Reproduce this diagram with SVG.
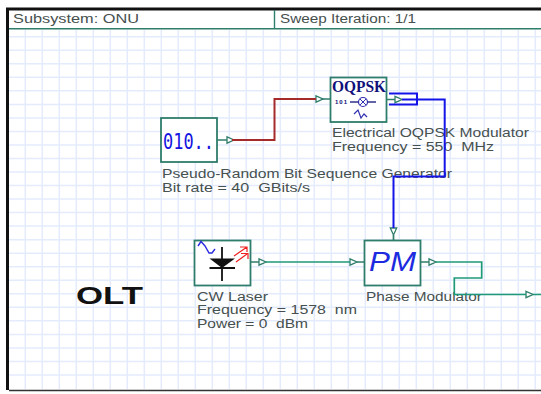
<svg xmlns="http://www.w3.org/2000/svg" width="541" height="394" viewBox="0 0 541 394">
<style>
text{white-space:pre}
.t{font-family:"Liberation Sans",Arial,sans-serif;font-size:12.5px;fill:#46504f}
.b{fill:#fff;stroke:#2f7d6b;stroke-width:1.8}
.w{fill:none;stroke-width:1.7}
.g{stroke:#1f9a78}.s{stroke:#2f7d6b}.u{stroke:#1414e8;stroke-width:2}.r{stroke:#a52a2a;stroke-width:2}
.p{fill:#fff;stroke:#2f7d6b;stroke-width:1.3}
.grid{stroke:#e4ebfd;stroke-width:1.5}
</style>
<defs>
<g id="port"><path class="p" d="M0-3.2 L7 0 L0 3.2Z"/></g>
<g id="portd"><path class="p" d="M-3.2 0 L3.2 0 L0 7Z"/></g>
</defs>
<rect width="541" height="394" fill="#fff"/>
<g id="grid" class="grid">
<path d="M25.3 30V389M42.3 30V389M59.3 30V389M76.3 30V389M93.3 30V389M110.3 30V389M127.3 30V389M144.3 30V389M161.3 30V389M178.3 30V389M195.3 30V389M212.3 30V389M229.3 30V389M246.3 30V389M263.3 30V389M280.3 30V389M297.3 30V389M314.3 30V389M331.3 30V389M348.3 30V389M365.3 30V389M382.3 30V389M399.3 30V389M416.3 30V389M433.3 30V389M450.3 30V389M467.3 30V389M484.3 30V389M501.3 30V389M518.3 30V389M535.3 30V389"/>
<path d="M9 36.7H541M9 50.2H541M9 63.8H541M9 77.3H541M9 90.8H541M9 104.4H541M9 117.9H541M9 131.4H541M9 144.9H541M9 158.5H541M9 172H541M9 185.5H541M9 199.1H541M9 212.6H541M9 226.1H541M9 239.7H541M9 253.2H541M9 266.7H541M9 280.2H541M9 293.8H541M9 307.3H541M9 320.8H541M9 334.4H541M9 347.9H541M9 361.4H541M9 375H541"/>
</g>
<g id="frame">
<path d="M7.500 390V9H541" fill="none" stroke="#111" stroke-width="3"/>
<path d="M9 390.500H541" stroke="#333" stroke-width="1.4"/>
<path d="M9 28.700H541M274.500 10V28.700" fill="none" stroke="#2f7d6b" stroke-width="1.4"/>
<text class="t" x="13" y="23" textLength="126" lengthAdjust="spacingAndGlyphs">Subsystem: ONU</text>
<text class="t" x="280" y="23" textLength="136" lengthAdjust="spacingAndGlyphs">Sweep Iteration: 1/1</text>
</g>
<g id="prbs">
<rect class="b" x="161" y="118" width="56" height="44"/>
<text x="163" y="149" font-family="'DejaVu Sans Mono',monospace" font-size="22" fill="#1414e0" textLength="51" lengthAdjust="spacingAndGlyphs">010..</text>
<use href="#port" x="227" y="140"/>
<text class="t" x="162" y="178" textLength="290" lengthAdjust="spacingAndGlyphs">Pseudo-Random Bit Sequence Generator</text>
<text class="t" x="162" y="192" textLength="148" lengthAdjust="spacingAndGlyphs">Bit rate = 40  GBits/s</text>
</g>
<g id="oqpsk">
<rect class="b" x="330.500" y="77.500" width="56" height="44.500"/>
<text x="332" y="92" font-family="'Liberation Serif',serif" font-weight="bold" font-size="17" fill="#10107a" textLength="54" lengthAdjust="spacingAndGlyphs">OQPSK</text>
<text x="335" y="104" font-family="'Liberation Sans',sans-serif" font-weight="bold" font-size="6" fill="#10107a" textLength="12">101</text>
<path d="M350 102H376" stroke="#10107a" stroke-width="1.3" fill="none"/>
<circle cx="363" cy="102" r="4.500" fill="#fff" stroke="#3030b0" stroke-width="1.2"/>
<path d="M360 99L366 105M366 99L360 105" stroke="#3030b0"/>
<path d="M354 114L358 110L361 118L364 114L367 117" fill="none" stroke="#3030b0" stroke-width="1.2"/>
<use href="#port" x="316" y="99"/>
<use href="#port" x="395" y="99.500"/>
<text class="t" x="332" y="137" textLength="197" lengthAdjust="spacingAndGlyphs">Electrical OQPSK Modulator</text>
<text class="t" x="332" y="151" textLength="162" lengthAdjust="spacingAndGlyphs">Frequency = 550  MHz</text>
</g>
<g id="laser">
<rect class="b" x="194.500" y="240.500" width="56" height="45"/>
<path d="M198 246L201 241.500L205 246L209 253L212 253L215 249" fill="none" stroke="#2a2ae0" stroke-width="1.4"/>
<path d="M222 247V281M209.500 268H235" stroke="#111" stroke-width="1.8" fill="none"/>
<path d="M209.500 258.500H235L222 268Z" fill="#111"/>
<path d="M234 256L247 247M240 247H247V252M236 262L247 254M241 253.500H248V259" fill="none" stroke="#f02020" stroke-width="1.2"/>
<use href="#port" x="259" y="262"/>
<text class="t" x="197" y="301" textLength="71" lengthAdjust="spacingAndGlyphs">CW Laser</text>
<text class="t" x="197" y="314" textLength="160" lengthAdjust="spacingAndGlyphs">Frequency = 1578  nm</text>
<text class="t" x="197" y="328" textLength="111" lengthAdjust="spacingAndGlyphs">Power = 0  dBm</text>
</g>
<g id="pm">
<rect class="b" x="364.500" y="240.500" width="56" height="45"/>
<text x="369" y="271" font-family="'Liberation Sans',sans-serif" font-style="italic" font-size="27" fill="#1c2ae0" textLength="47" lengthAdjust="spacingAndGlyphs">PM</text>
<use href="#port" x="350" y="262"/>
<use href="#port" x="429" y="262"/>
<use href="#portd" x="393.500" y="228"/>
<text class="t" x="366" y="301" textLength="116" lengthAdjust="spacingAndGlyphs">Phase Modulator</text>
<use href="#port" x="526" y="294.500"/>
</g>
<g id="olt">
<text x="76" y="304" font-family="'Liberation Sans',sans-serif" font-weight="bold" font-size="24" fill="#111" textLength="67" lengthAdjust="spacingAndGlyphs">OLT</text>
</g>
<g id="connectors">
<path class="w s" d="M217 140H227M321 99H330M387 99.500H395M251 262H259M357 262H364M421 262H429M393.500 235V240"/>
<path class="w r" d="M232 140H274.500V99H316"/>
<path class="w u" d="M402 99.500H444.700V176.500H393.500V228M389 93.500H417V104.500H389"/>
<path class="w g" d="M266 262H350M436 262H481.700V278H454.300V294.500H526M533 294.500H541"/>
</g>
</svg>
